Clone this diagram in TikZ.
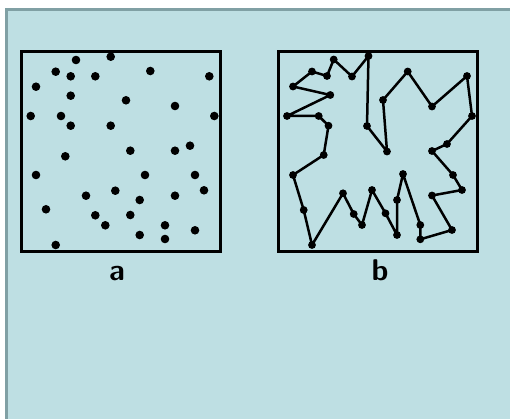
\documentclass[tikz,border=0pt]{standalone}
\usetikzlibrary{positioning}
\definecolor{paneblue}{RGB}{190,223,227}
\definecolor{panerim}{RGB}{128,160,164}
\begin{document}
\begin{tikzpicture}[x=1pt,y=-1pt]
	\tikzset{frame/.style={draw,line width=3pt,minimum size=199pt,inner sep=0pt},
		lab/.style={font=\sffamily\bfseries\fontsize{30}{30}\selectfont,anchor=base,inner sep=0pt}}
	\useasboundingbox (0,0) rectangle (510,419);
	\fill[white] (0,0) rectangle (510,419);
	\fill[paneblue] (5,8) rectangle (510,419);
	\draw[panerim,line width=3pt] (6.5,419) -- (6.5,9.5) -- (510,9.5);
	\node[frame] (boxa) at (120.5,151.5) {};
	\node[frame] (boxb) at (377.5,151.5) {};
	% a: the cities
	\foreach \x/\y in {76/60, 110.7/56.7, 55.7/71.7, 70.7/76.3, 95.3/76.3, 150.3/71, 209.3/76.3,
		36/86.7, 70.7/95.7, 126/100.3, 175/106, 30.7/116, 61/116, 214.3/116, 70.7/125.7,
		110.7/125.7, 130.3/150.7, 175/150.7, 190/145.7, 65.3/156.3, 36/175, 145/175, 195/175,
		204/190.3, 115.3/190.7, 86/195.7, 139.7/200, 175/195.7, 46/209.3, 95.3/215.3,
		130.3/215, 105.3/225.3, 165/225.3, 195/230.3, 139.7/235, 165/239, 55.7/245}{
		\fill (\x,\y) circle (4.3pt);
	}
	% b: the tour through them
	\foreach \x/\y [count=\i] in {368.5/56, 367/126, 387/151.5, 383/100, 407.7/71.5, 432/106.5,
		467/76, 472/116, 447/144, 432/151, 453/175, 462/190, 432/195.5, 452/230, 420.3/239.3,
		420.3/225, 403/174, 397/200, 397/235, 385.5/213.3, 372/190, 362/225, 353.7/214,
		343/193.3, 312/245, 303.7/210, 293/175, 323.7/155, 328.5/125.7, 318.7/116, 287/116,
		330.3/95, 293/86.5, 312/71.5, 327/76, 333.7/59.5, 352/76.5}{
		\coordinate (t\i) at (\x,\y);
	}
	\draw[line width=2.5pt,line join=round] (t1) \foreach \i in {2,...,37}{-- (t\i)} -- cycle;
	\foreach \i in {1,...,37}{
		\fill (t\i) circle (3.9pt);
	}
	\node[lab] (laba) at (117,280) {a};
	\node[lab] (labb) at (380,280) {b};
\end{tikzpicture}
\end{document}
